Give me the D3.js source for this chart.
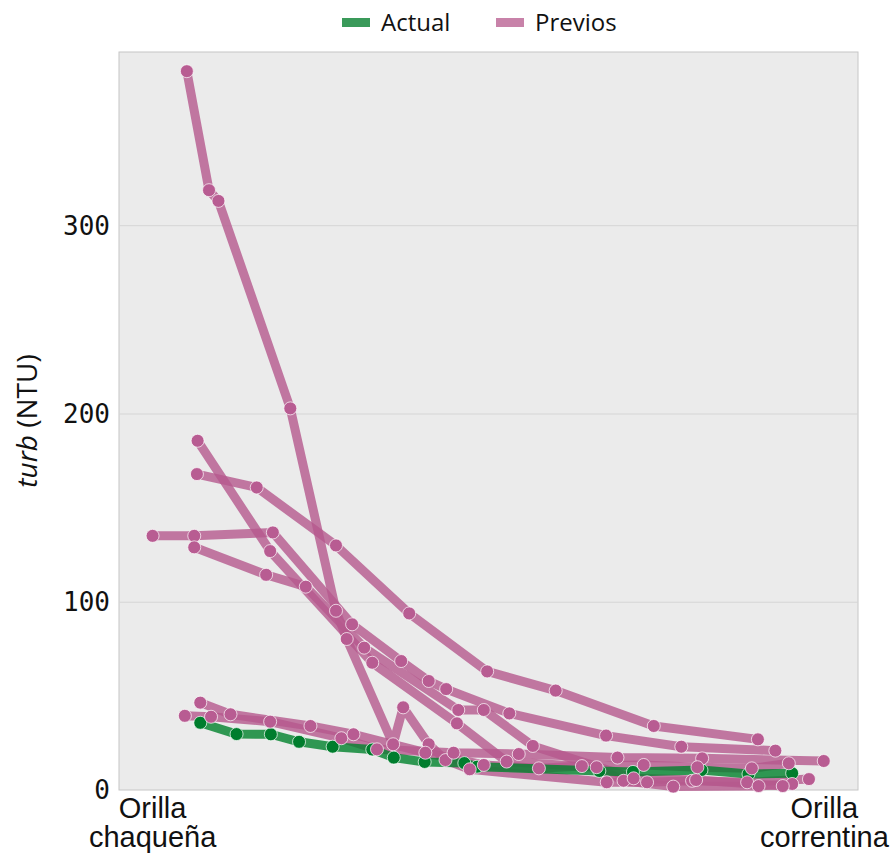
<!DOCTYPE html>
<html lang="es">
<head>
<meta charset="UTF-8">
<title>turb (NTU)</title>
<style>
  *{margin:0;padding:0;}
  body{background:#fff;}
  svg{display:block;}
</style>
</head>
<body>
<div id="chart"></div>
<script src="https://cdn.jsdelivr.net/npm/d3@7"></script>
<script>
// posicion relativa en la seccion (0 = orilla chaqueña, 1 = orilla correntina), turbiedad en NTU
var actual = [[0.071,35.7],[0.125,29.7],[0.176,29.6],[0.218,25.6],[0.268,23.0],[0.327,21.5],[0.359,17.2],
  [0.405,14.9],[0.464,14.3],[0.483,12.4],[0.665,10.1],[0.715,9.6],[0.817,10.6],[0.887,8.5],[0.952,8.9]];

var previo1 = [[0.000,135],[0.062,135],[0.179,136.8],[0.297,88.0],[0.370,68.5],[0.411,57.9],[0.437,53.6],
  [0.531,40.7],[0.675,28.9],[0.787,23.0],[0.927,20.9]];
var previo2 = [[0.066,167.8],[0.155,160.7],[0.273,129.9],[0.382,93.8],[0.498,63.0],[0.600,52.8],[0.746,34.0],[0.901,26.9]];
var previo3 = [[0.051,381.8],[0.084,318.6],[0.098,312.9],[0.205,202.7],[0.273,95.2],[0.289,80.2],[0.358,24.3],
  [0.373,43.9],[0.411,24.3],[0.436,15.9],[0.472,11.0],[0.676,4.1],[0.736,4.1],[0.803,4.9],[0.885,4.1],[0.977,5.8]];
var previo4 = [[0.067,185.5],[0.175,126.9],[0.327,67.6],[0.453,35.4],[0.527,15.1],[0.661,12.1],[0.701,4.9],
  [0.775,1.8],[0.902,2.1],[0.952,3.2]];
var previo5 = [[0.062,128.9],[0.169,114.3],[0.228,108.0],[0.315,75.6],[0.455,42.5],[0.493,42.5],[0.566,23.4],
  [0.716,6.2],[0.809,5.3],[0.938,2.1]];
var previo6 = [[0.048,39.4],[0.087,38.9],[0.175,36.3],[0.281,27.5],[0.334,21.6],[0.448,19.8],[0.545,19.1],
  [0.692,17.2],[0.818,16.8],[0.999,15.4]];
var previo7 = [[0.071,46.4],[0.116,40.2],[0.235,34.0],[0.299,29.6],[0.406,19.8],[0.493,13.3],[0.575,11.5],
  [0.639,12.7],[0.731,13.3],[0.811,12.1],[0.892,11.5],[0.947,14.2]];

var previos = [previo1, previo2, previo3, previo4, previo5, previo6, previo7];

var xTicks = [0, 1];
var xTickLabels = [["Orilla", "chaqueña"], ["Orilla", "correntina"]];
var yTicks = [0, 100, 200, 300];
var legendNames = ["Actual", "Previos"];

var W = 891, H = 854;
var margin = {left: 119, top: 52, right: 33, bottom: 64};
var pw = W - margin.left - margin.right, ph = H - margin.top - margin.bottom;
var pad = pw * 0.05 / 1.1;

var green = "#00822c", pink = "#b5598d";

var x = d3.scaleLinear().domain([0, 1]).range([pad, pw - pad]);
var y = d3.scaleLinear().domain([0, 392]).range([ph, 0]);

var svg = d3.select("#chart").append("svg").attr("width", W).attr("height", H);
var g = svg.append("g").attr("transform", "translate(" + margin.left + "," + margin.top + ")");

g.append("rect").attr("width", pw).attr("height", ph)
  .attr("fill", "#ebebeb").attr("stroke", "#c6c6c6").attr("stroke-width", 1);

g.selectAll(".grid").data(yTicks.filter(function (d) { return d > 0; })).enter()
  .append("line").attr("class", "grid")
  .attr("x1", 0).attr("x2", pw)
  .attr("y1", function (d) { return y(d) + 0.5; }).attr("y2", function (d) { return y(d) + 0.5; })
  .attr("stroke", "#d5d5d5").attr("stroke-width", 1);

// eje y
g.selectAll(".ytick").data(yTicks).enter().append("text")
  .attr("x", -9).attr("y", function (d) { return y(d); })
  .attr("dy", "0.36em").attr("text-anchor", "end")
  .attr("font-family", "DejaVu Sans Mono").attr("font-size", 26).attr("fill", "#111")
  .text(function (d) { return d; });

var ylab = svg.append("text")
  .attr("transform", "translate(37," + (margin.top + ph / 2) + ") rotate(-90)")
  .attr("text-anchor", "middle")
  .attr("font-family", "Open Sans").attr("font-size", 28).attr("fill", "#111");
ylab.append("tspan").attr("font-style", "italic").text("turb");
ylab.append("tspan").text(" (NTU)");

// eje x
var xt = g.selectAll(".xtick").data(xTicks).enter().append("text")
  .attr("text-anchor", "middle")
  .attr("font-family", "Liberation Sans").attr("font-size", 29).attr("fill", "#111");
xt.each(function (d, i) {
  var t = d3.select(this);
  xTickLabels[i].forEach(function (s, k) {
    t.append("tspan").attr("x", x(d)).attr("y", ph + 28 + k * 29).text(s);
  });
});

var line = d3.line().x(function (d) { return x(d[0]); }).y(function (d) { return y(d[1]); });

g.selectAll(".prev").data(previos).enter().append("path")
  .attr("d", line).attr("fill", "none").attr("stroke", pink).attr("stroke-opacity", 0.8)
  .attr("stroke-width", 9).attr("stroke-linejoin", "round").attr("stroke-linecap", "round");

g.append("path").datum(actual)
  .attr("d", line).attr("fill", "none").attr("stroke", green).attr("stroke-opacity", 0.8)
  .attr("stroke-width", 9).attr("stroke-linejoin", "round").attr("stroke-linecap", "round");

g.selectAll(".pa").data(actual).enter().append("circle")
  .attr("cx", function (d) { return x(d[0]); }).attr("cy", function (d) { return y(d[1]); })
  .attr("r", 6.5).attr("fill", "#007d2d").attr("stroke", "#ffffff").attr("stroke-opacity", 0.7);

g.selectAll(".pp").data(d3.merge(previos)).enter().append("circle")
  .attr("cx", function (d) { return x(d[0]); }).attr("cy", function (d) { return y(d[1]); })
  .attr("r", 6.5).attr("fill", "#b85c92").attr("stroke", "#ffffff").attr("stroke-opacity", 0.7);

// leyenda
var legendColors = ["#3a9a5a", "#c882a9"];
var legendX = [342, 496];
var lg = svg.selectAll(".leg").data(legendNames).enter().append("g")
  .attr("transform", function (d, i) { return "translate(" + legendX[i] + ",0)"; });
lg.append("rect").attr("x", 0).attr("y", 18).attr("width", 28).attr("height", 9)
  .attr("fill", function (d, i) { return legendColors[i]; });
lg.append("text").attr("x", 39).attr("y", 31)
  .attr("font-family", "Open Sans").attr("font-size", 24).attr("fill", "#111")
  .text(function (d) { return d; });
</script>
</body>
</html>
